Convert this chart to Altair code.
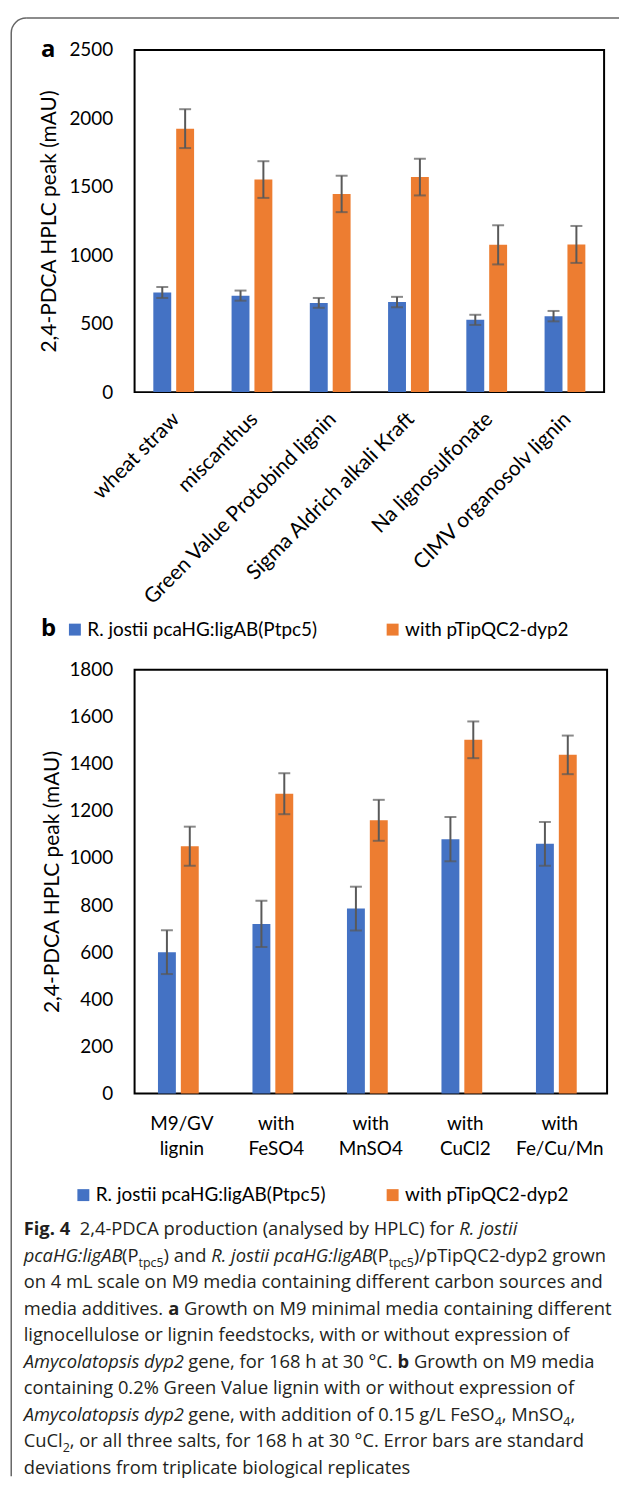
import glob
import os
import struct

import altair as alt
import pandas as pd

# ---------------- data ----------------
series = ["R. jostii pcaHG:ligAB(Ptpc5)", "with pTipQC2-dyp2"]
colors = ["#4472C4", "#ED7D31"]

cats_a = ["wheat straw", "miscanthus", "Green Value Protobind lignin",
          "Sigma Aldrich alkali Kraft", "Na lignosulfonate", "CIMV organosolv lignin"]
a_blue = [728, 705, 652, 658, 528, 555]
a_blue_sd = [40, 37, 36, 38, 37, 38]
a_orange = [1925, 1553, 1448, 1571, 1076, 1079]
a_orange_sd = [142, 134, 133, 134, 143, 135]
a_ticks = [0, 500, 1000, 1500, 2000, 2500]

cats_b = ["M9/GV lignin", "with FeSO4", "with MnSO4", "with CuCl2", "with Fe/Cu/Mn"]
b_blue = [600, 720, 785, 1080, 1060]
b_blue_sd = [93, 98, 93, 94, 93]
b_orange = [1050, 1273, 1160, 1502, 1438]
b_orange_sd = [83, 87, 87, 78, 82]
b_ticks = [0, 200, 400, 600, 800, 1000, 1200, 1400, 1600, 1800]

y_title = "2,4-PDCA HPLC peak (mAU)"

# caption: one list of (style, text) per line; n normal, i italic, b bold, s subscript
caption_lines = [
    [("b", "Fig. 4"), ("n", "  2,4-PDCA production (analysed by HPLC) for "), ("i", "R. jostii")],
    [("i", "pcaHG:ligAB"), ("n", "(P"), ("s", "tpc5"), ("n", ") and "),
     ("i", "R. jostii pcaHG:ligAB"), ("n", "(P"), ("s", "tpc5"), ("n", ")/pTipQC2-dyp2 grown")],
    [("n", "on 4 mL scale on M9 media containing different carbon sources and")],
    [("n", "media additives. "), ("b", "a"), ("n", " Growth on M9 minimal media containing different")],
    [("n", "lignocellulose or lignin feedstocks, with or without expression of")],
    [("i", "Amycolatopsis dyp2"), ("n", " gene, for 168 h at 30 °C. "), ("b", "b"),
     ("n", " Growth on M9 media")],
    [("n", "containing 0.2% Green Value lignin with or without expression of")],
    [("i", "Amycolatopsis dyp2"), ("n", " gene, with addition of 0.15 g/L FeSO"), ("s", "4"),
     ("n", ", MnSO"), ("s", "4"), ("n", ",")],
    [("n", "CuCl"), ("s", "2"), ("n", ", or all three salts, for 168 h at 30 °C. Error bars are standard")],
    [("n", "deviations from triplicate biological replicates")],
]
panel_letters = [("a", 40, 52.5), ("b", 40, 634.5)]

# ---------------- layout (page pixels) ----------------
A_X, A_Y, A_W, A_H = 134, 45, 472, 344
B_Y, B_W, B_H = 668, 475, 426
SPACING = B_Y - (A_Y + A_H)
C_Y = B_Y + B_H + SPACING
CAP_X, CAP_BASE, CAP_STEP = 22.5, 1236.5, 26.67
CAP_REF_LINE, CAP_REF_WIDTH = 2, 583.0   # width of the third caption line in the reference

CHART_FONT = "Lato"
CAP_FONT = "Open Sans"
ERR = "#595959"


# ---------------- font metrics (for flowing mixed-style caption text) ----------------
def find_font(patterns):
    dirs = ["/usr/share/fonts", "/usr/local/share/fonts",
            os.path.expanduser("~/.fonts"), os.path.expanduser("~/.local/share/fonts")]
    for pat in patterns:
        for d in dirs:
            hits = sorted(glob.glob(os.path.join(d, "**", pat), recursive=True))
            if hits:
                return hits[0]
    return None


class FontMetrics:
    def __init__(self, path, fallback_em=0.53, scale=1.0):
        self.ok = False
        self.fallback_em = fallback_em
        self.scale = scale
        if not path:
            return
        try:
            with open(path, "rb") as f:
                data = f.read()
            off = struct.unpack(">I", data[12:16])[0] if data[:4] == b"ttcf" else 0
            num = struct.unpack(">H", data[off + 4:off + 6])[0]
            tables = {}
            for i in range(num):
                rec = off + 12 + 16 * i
                tag = data[rec:rec + 4].decode("latin1")
                toff, tlen = struct.unpack(">II", data[rec + 8:rec + 16])
                tables[tag] = toff
            self.variable = "fvar" in tables
            h = tables["head"]
            self.upem = struct.unpack(">H", data[h + 18:h + 20])[0]
            hh = tables["hhea"]
            nhm = struct.unpack(">H", data[hh + 34:hh + 36])[0]
            hm = tables["hmtx"]
            self.adv = [struct.unpack(">H", data[hm + 4 * i:hm + 4 * i + 2])[0]
                        for i in range(nhm)]
            self.data = data
            self.segs = None
            c = tables["cmap"]
            n = struct.unpack(">H", data[c + 2:c + 4])[0]
            for i in range(n):
                pid, eid, so = struct.unpack(">HHI", data[c + 4 + 8 * i:c + 12 + 8 * i])
                so += c
                fmt = struct.unpack(">H", data[so:so + 2])[0]
                if fmt == 4 and (pid == 0 or (pid == 3 and eid in (0, 1))):
                    segx2 = struct.unpack(">H", data[so + 6:so + 8])[0]
                    seg = segx2 // 2
                    ends = struct.unpack(">%dH" % seg, data[so + 14:so + 14 + segx2])
                    starts = struct.unpack(">%dH" % seg,
                                           data[so + 16 + segx2:so + 16 + 2 * segx2])
                    deltas = struct.unpack(">%dh" % seg,
                                           data[so + 16 + 2 * segx2:so + 16 + 3 * segx2])
                    rpos = so + 16 + 3 * segx2
                    roffs = struct.unpack(">%dH" % seg, data[rpos:rpos + segx2])
                    self.segs = (ends, starts, deltas, roffs, rpos)
                    break
            if self.segs is not None:
                self.ok = True
        except Exception:
            self.ok = False

    def glyph(self, ch):
        ends, starts, deltas, roffs, rpos = self.segs
        c = ord(ch)
        for s in range(len(ends)):
            if ends[s] >= c:
                if starts[s] > c:
                    return 0
                if roffs[s] == 0:
                    return (c + deltas[s]) & 0xFFFF
                p = rpos + 2 * s + roffs[s] + 2 * (c - starts[s])
                g = struct.unpack(">H", self.data[p:p + 2])[0]
                return (g + deltas[s]) & 0xFFFF if g else 0
        return 0

    def width(self, text, size):
        if not self.ok:
            return len(text) * self.fallback_em * size * self.scale
        tot = 0
        for ch in text:
            g = self.glyph(ch)
            tot += self.adv[g] if g < len(self.adv) else self.adv[-1]
        return tot / self.upem * size * self.scale


cap_reg = FontMetrics(find_font(["OpenSans-Regular.ttf", "OpenSans[[]*.ttf", "OpenSans*.ttf"]))
cap_it_path = find_font(["OpenSans-Italic.ttf", "OpenSans-Italic*.ttf"])
cap_it = FontMetrics(cap_it_path) if cap_it_path else FontMetrics(
    find_font(["OpenSans-Regular.ttf", "OpenSans*.ttf"]), scale=0.97)
cap_bd_path = find_font(["OpenSans-Bold.ttf"])
cap_bd = FontMetrics(cap_bd_path) if cap_bd_path else FontMetrics(
    find_font(["OpenSans-Regular.ttf", "OpenSans*.ttf"]), fallback_em=0.57, scale=1.07)
if cap_bd.ok and getattr(cap_bd, "variable", False):
    cap_bd.scale = 1.07
lato = FontMetrics(find_font(["Lato-Regular.ttf", "Lato*.ttf"]), fallback_em=0.5)
metrics = {"n": cap_reg, "i": cap_it, "b": cap_bd, "s": cap_reg}

ref_text = "".join(t for _, t in caption_lines[CAP_REF_LINE])
CAP_SIZE = CAP_REF_WIDTH / max(cap_reg.width(ref_text, 1.0), 1e-6)
CAP_SIZE = min(max(CAP_SIZE, 15.0), 20.0)
SUB_SIZE = CAP_SIZE * 0.68

# flow the caption segments using the font's advance widths
cap_rows = []
for li, segs in enumerate(caption_lines):
    x = CAP_X
    for style, text in segs:
        size = SUB_SIZE if style == "s" else CAP_SIZE
        m = metrics[style]
        lead = len(text) - len(text.lstrip(" "))
        shown = text.strip(" ")
        if shown:
            cap_rows.append(dict(style=style, t=shown, x=x + m.width(" " * lead, size),
                                 y=CAP_BASE + CAP_STEP * li + (5 if style == "s" else 0)))
        x += m.width(text, size)
cap = pd.DataFrame(cap_rows)

# legend spacing: second entry starts at x = 381 in both legends
LEG_SYM, LEG_OFF, LEG_SIZE = 12, 3, 19
lab1 = lato.width(series[0], LEG_SIZE) if lato.ok else 232


def long_df(cats, v1, s1, v2, s2):
    rows = []
    for c, a, sa, b, sb in zip(cats, v1, s1, v2, s2):
        rows.append(dict(cat=c, series=series[0], value=a, lo=a - sa, hi=a + sa))
        rows.append(dict(cat=c, series=series[1], value=b, lo=b - sb, hi=b + sb))
    return pd.DataFrame(rows)


def panel(df, cats, ymax, ticks, w, h, pin, pin2, xaxis, legend, title_x):
    yaxis = alt.Axis(values=ticks, format="d", title=y_title, grid=False, ticks=False,
                     domain=False, labelFont=CHART_FONT, labelFontSize=19, labelColor="#000",
                     labelPadding=22, titleFont=CHART_FONT, titleFontSize=21,
                     titleFontWeight="normal", titleColor="#000", titleX=title_x,
                     titleY=h / 2, titleAngle=270, titleAlign="center",
                     titleBaseline="middle")
    yscale = alt.Scale(domain=[0, ymax], nice=False)
    x = alt.X("cat:N", sort=cats, scale=alt.Scale(paddingInner=pin, paddingOuter=pin / 2),
              axis=xaxis)
    xo = alt.XOffset("series:N", sort=series,
                     scale=alt.Scale(paddingInner=pin2, paddingOuter=0))
    color = alt.Color("series:N", sort=series,
                      scale=alt.Scale(domain=series, range=colors), legend=legend)
    bars = alt.Chart(df).mark_bar().encode(
        x=x, xOffset=xo, y=alt.Y("value:Q", scale=yscale, axis=yaxis), color=color)
    rule = alt.Chart(df).mark_rule(color=ERR, strokeWidth=2).encode(
        x=x, xOffset=xo, y=alt.Y("lo:Q", scale=yscale, axis=yaxis), y2="hi:Q")
    cap_lo = alt.Chart(df).mark_tick(color=ERR, thickness=2, size=12,
                                     orient="horizontal").encode(
        x=x, xOffset=xo, y=alt.Y("lo:Q", scale=yscale, axis=yaxis))
    cap_hi = alt.Chart(df).mark_tick(color=ERR, thickness=2, size=12,
                                     orient="horizontal").encode(
        x=x, xOffset=xo, y=alt.Y("hi:Q", scale=yscale, axis=yaxis))
    return alt.layer(bars, rule, cap_lo, cap_hi).properties(
        width=w, height=h, view=alt.ViewBackground(stroke="#000", strokeWidth=2))


def legend(sym_left, center_y, origin_y):
    colpad = 381 - sym_left - (LEG_SYM + LEG_OFF + lab1)
    return alt.Legend(title=None, orient="none", legendX=sym_left - A_X - 5,
                      legendY=center_y - 9.5 - origin_y,
                      direction="horizontal", symbolType="square", symbolSize=LEG_SYM ** 2,
                      symbolStrokeWidth=0, symbolOpacity=1, labelFont=CHART_FONT,
                      labelFontSize=LEG_SIZE, labelColor="#000", labelOffset=LEG_OFF,
                      columnPadding=colpad, padding=0, labelLimit=400)


xaxis_a = alt.Axis(title=None, labelAngle=315, labelAlign="right", labelBaseline="top",
                   labelPadding=16, labelOffset=-5, labelFont=CHART_FONT, labelFontSize=21,
                   labelColor="#000", labelLimit=400, domain=False, ticks=False)
xaxis_b = alt.Axis(title=None, labelAngle=0, labelExpr="split(datum.label, ' ')",
                   labelLineHeight=25, labelBaseline="top", labelPadding=21,
                   labelFont=CHART_FONT, labelFontSize=19, labelColor="#000",
                   labelLimit=400, domain=False, ticks=False)

df_a = long_df(cats_a, a_blue, a_blue_sd, a_orange, a_orange_sd)
df_b = long_df(cats_b, b_blue, b_blue_sd, b_orange, b_orange_sd)

chart_a = panel(df_a, cats_a, 2500, a_ticks, A_W, A_H, 0.479, 0.217, xaxis_a,
                legend(69.5, 627.5, A_Y), 49 - A_X)
chart_b = panel(df_b, cats_b, 1800, b_ticks, B_W, B_H, 0.495, 0.2545, xaxis_b,
                legend(78, 1196, B_Y), 52 - A_X)

# ---------------- caption / annotations (panel C, pixel positions) ----------------
cap["px"] = cap["x"] - A_X
cap["py"] = cap["y"] - C_Y

pos = dict(x=alt.X("px:Q", scale=None, axis=None), y=alt.Y("py:Q", scale=None, axis=None),
           text="t:N")
CAP_COLOR = "#231f20"
layers = []
for style, kw in [("n", {}), ("i", {"fontStyle": "italic"}), ("b", {"fontWeight": "bold"}),
                  ("s", {"fontSize": SUB_SIZE})]:
    d = cap[cap["style"] == style]
    props = dict(font=CAP_FONT, fontSize=CAP_SIZE, color=CAP_COLOR, align="left",
                 baseline="alphabetic")
    props.update(kw)
    layers.append(alt.Chart(d).mark_text(**props).encode(**pos))

letters = pd.DataFrame(panel_letters, columns=["t", "x", "y"])
letters["px"] = letters["x"] - A_X
letters["py"] = letters["y"] - C_Y
layers.append(alt.Chart(letters).mark_text(font=CAP_FONT, fontSize=24, fontWeight="bold",
                                           color="#000", align="left",
                                           baseline="alphabetic").encode(**pos))

# outer frame (left and top edges with rounded corner)
FR_X, FR_Y, FR_R = 10, 13, 15
frame = pd.DataFrame({"x": [FR_X, FR_X + FR_R], "x2": [FR_X, 621],
                      "y": [FR_Y + FR_R, FR_Y], "y2": [1479, FR_Y]})
frame["px"] = frame["x"] - A_X
frame["px2"] = frame["x2"] - A_X
frame["py"] = frame["y"] - C_Y
frame["py2"] = frame["y2"] - C_Y
layers.append(alt.Chart(frame).mark_rule(color="#666", strokeWidth=1.5).encode(
    x=alt.X("px:Q", scale=None, axis=None), x2="px2:Q",
    y=alt.Y("py:Q", scale=None, axis=None), y2="py2:Q"))
corner = pd.DataFrame({"k": [0]})
layers.append(alt.Chart(corner).mark_arc(radius=FR_R + 0.75, radius2=FR_R - 0.75,
                                         theta=4.712389, theta2=6.283185,
                                         color="#666").encode(
    x=alt.value(FR_X + FR_R - A_X), y=alt.value(FR_Y + FR_R - C_Y)))

chart_c = alt.layer(*layers).properties(width=B_W, height=10)

chart = alt.vconcat(chart_a, chart_b, chart_c, spacing=SPACING, bounds="flush").resolve_scale(
    color="independent").resolve_legend(color="independent").properties(
    padding={"left": 1.25, "top": 4.25, "right": 0, "bottom": 0}).configure_view(
    stroke="transparent")

chart.save("out.html", embed_options={"renderer": "svg", "actions": False})
